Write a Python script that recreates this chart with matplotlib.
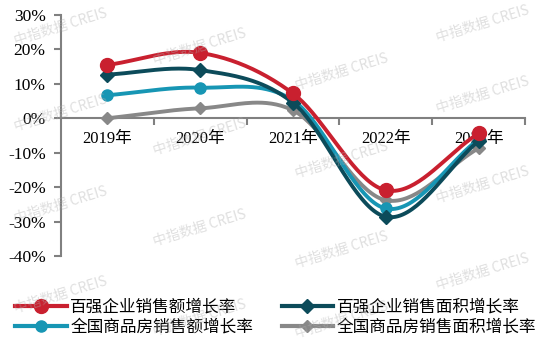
import matplotlib
matplotlib.use('Agg')
import matplotlib.pyplot as plt
from matplotlib.lines import Line2D
import numpy as np

# 数据
years = ['2019年', '2020年', '2021年', '2022年', '2023年']
top100_amount = [15.5, 19.0, 7.2, -20.9, -4.4]
top100_area = [12.7, 14.0, 4.5, -28.6, -6.6]
national_amount = [6.7, 8.9, 5.2, -26.2, -6.1]
national_area = [0.0, 2.9, 2.3, -23.8, -8.7]
series_names = ['百强企业销售额增长率', '百强企业销售面积增长率',
                '全国商品房销售额增长率', '全国商品房销售面积增长率']
y_ticks = [30, 20, 10, 0, -10, -20, -30, -40]

colors = ['#C9202F', '#0C4B5A', '#1796B4', '#888888']
markers = ['o', 'D', 'o', 'D']
msizes = [10, 7, 8, 6]


def smooth(xs, ys, n=40):
    # Catmull-Rom curve through the points (like Excel smoothed lines)
    xs = np.asarray(xs, float)
    ys = np.asarray(ys, float)
    px = np.concatenate([[2 * xs[0] - xs[1]], xs, [2 * xs[-1] - xs[-2]]])
    py = np.concatenate([[2 * ys[0] - ys[1]], ys, [2 * ys[-1] - ys[-2]]])
    out_x, out_y = [], []
    t = np.linspace(0, 1, n)
    for i in range(1, len(px) - 2):
        for p, out in ((px, out_x), (py, out_y)):
            p0, p1, p2, p3 = p[i - 1], p[i], p[i + 1], p[i + 2]
            out.extend(0.5 * ((2 * p1) + (-p0 + p2) * t
                              + (2 * p0 - 5 * p1 + 4 * p2 - p3) * t ** 2
                              + (-p0 + 3 * p1 - 3 * p2 + p3) * t ** 3))
    return out_x, out_y


fig = plt.figure(figsize=(5.43, 3.45), dpi=100)
ax = fig.add_axes([61 / 543, 1 - 256 / 345, (525 - 61) / 543, (256 - 15) / 345])

x = np.arange(len(years))
all_series = [top100_amount, top100_area, national_amount, national_area]
order = [3, 2, 1, 0]
for i in order:
    sx, sy = smooth(x, all_series[i])
    ax.plot(sx, sy, color=colors[i], lw=2.8, solid_capstyle='round', zorder=3 + (3 - i))
    ax.plot(x, all_series[i], linestyle='none', marker=markers[i], ms=msizes[i],
            color=colors[i], zorder=3 + (3 - i))

ax.set_xlim(-0.5, 4.5)
ax.set_ylim(-40, 30)

for s in ['top', 'right']:
    ax.spines[s].set_visible(False)
ax.spines['left'].set_color('#808080')
ax.spines['left'].set_linewidth(1.5)
ax.spines['bottom'].set_position(('data', 0))
ax.spines['bottom'].set_color('#808080')
ax.spines['bottom'].set_linewidth(1.5)

ax.set_yticks(y_ticks)
ax.set_yticklabels([f'{v}%' for v in y_ticks], family='Liberation Serif', fontsize=12.5)
ax.tick_params(axis='y', length=5, width=1.5, color='#808080', pad=6)

ax.set_xticks(x)
ax.set_xticklabels(years, family=['Liberation Serif', 'Noto Sans CJK SC'], fontsize=12)
ax.tick_params(axis='x', which='major', length=0, pad=9)
ax.set_xticks(np.arange(0.5, 5, 1), minor=True)
ax.tick_params(axis='x', which='minor', length=5, width=1.5, color='#808080', direction='out')

# 图例 (按行排列: 红, 深青 / 青, 灰)
legend_order = [0, 2, 1, 3]
handles = [Line2D([0], [0], color=colors[i], lw=3, marker=markers[i], ms=msizes[i])
           for i in legend_order]
labels = [series_names[i] for i in legend_order]
fig.legend(handles, labels, loc='upper left', bbox_to_anchor=(7 / 543, 1 - 290 / 345),
           ncol=2, frameon=False, borderpad=0, handlelength=3.1, handletextpad=0.2,
           columnspacing=1.7, labelspacing=0.2,
           prop={'family': 'Noto Sans CJK SC', 'size': 12})

# 水印
wm = [(61, 27), (61, 113), (61, 205), (61, 295),
      (200, 47), (200, 137), (200, 228), (200, 318),
      (342, 72), (342, 160), (342, 250), (342, 320),
      (483, 24), (483, 95), (483, 185), (483, 272)]
for px_, py_ in wm:
    fig.text(px_ / 543, 1 - py_ / 345, '中指数据 CREIS', family='Noto Sans CJK SC',
             fontsize=10, color='#b0b0b0', alpha=0.4, rotation=17,
             ha='center', va='center', zorder=10)

fig.savefig('out.png', dpi=100)
